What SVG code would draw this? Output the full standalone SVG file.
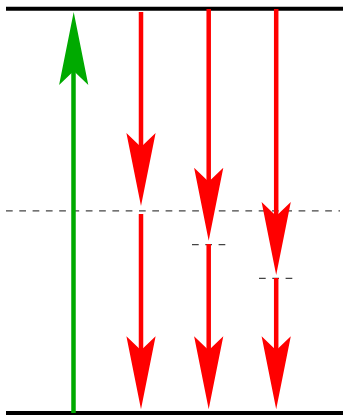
<svg xmlns="http://www.w3.org/2000/svg" xmlns:xlink="http://www.w3.org/1999/xlink" width="345" height="416" viewBox="0 0 345 416">
<style>
.level{stroke:#000;stroke-width:4;fill:none}
.dash{stroke:#444;stroke-width:1.2;stroke-dasharray:6.7 6.6;fill:none}
.red{stroke:#ff0000;stroke-width:4.5;fill:none}
.green{stroke:#00aa00;stroke-width:4.5;fill:none}
.rhead{fill:#ff0000}
.ghead{fill:#00aa00}
</style>
<defs>
<path id="head" d="M0,0 L-14.6,-73 L0,-59 L14.6,-73 Z"/>
</defs>
<g id="levels">
<line class="level" x1="6" y1="8.7" x2="343" y2="8.7"/>
<line class="level" x1="6" y1="413" x2="343" y2="413"/>
<line class="dash" x1="6" y1="210.8" x2="340" y2="210.8"/>
<line class="dash" x1="192" y1="244.7" x2="226" y2="244.7"/>
<line class="dash" x1="259" y1="278.3" x2="293" y2="278.3"/>
</g>
<g id="connectors">
<g id="green-up">
<line class="green" x1="73.5" y1="413" x2="73.5" y2="70"/>
<use xlink:href="#head" class="ghead" transform="translate(73.7,12) rotate(180)"/>
</g>
<g id="red-1">
<line class="red" x1="141" y1="12" x2="141" y2="150"/>
<use xlink:href="#head" class="rhead" transform="translate(141,206)"/>
<line class="red" x1="141" y1="214" x2="141" y2="355"/>
<use xlink:href="#head" class="rhead" transform="translate(141,409.3)"/>
</g>
<g id="red-2">
<line class="red" x1="208.7" y1="9" x2="208.7" y2="185"/>
<use xlink:href="#head" class="rhead" transform="translate(208.7,240.7)"/>
<line class="red" x1="208.7" y1="244" x2="208.7" y2="355"/>
<use xlink:href="#head" class="rhead" transform="translate(208.7,409.3)"/>
</g>
<g id="red-3">
<line class="red" x1="276.2" y1="9" x2="276.2" y2="218"/>
<use xlink:href="#head" class="rhead" transform="translate(276.2,275)"/>
<line class="red" x1="276.2" y1="278" x2="276.2" y2="355"/>
<use xlink:href="#head" class="rhead" transform="translate(276.2,409.3)"/>
</g>
</g>
</svg>
